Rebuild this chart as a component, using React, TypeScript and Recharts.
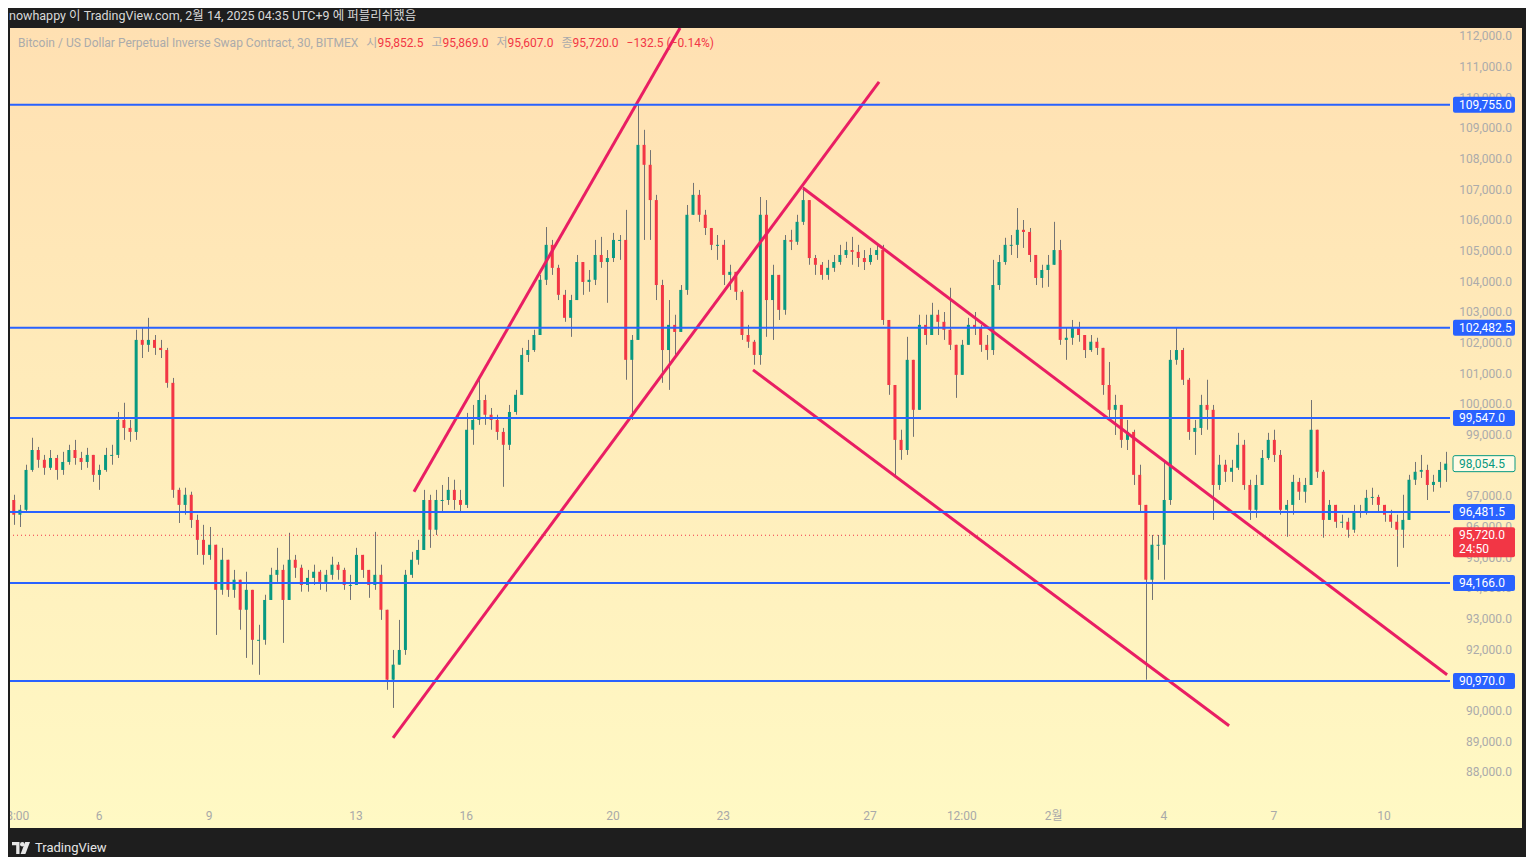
import React from 'react';
import { ComposedChart, Bar, XAxis, YAxis, ReferenceLine } from 'recharts';

const FONT = "Roboto, 'Noto Sans CJK KR', sans-serif";

// 4h candles, from Jan 3 16:00 to Feb 11 16:00
const FIRST_OPEN = 96870;
const closes = [
  96390, 96550, 97850, 98500, 98180, 97920, 98240, 97850, 98110, 98500,
  98240, 98110, 98340, 97690, 97850, 98340, 98340, 99480, 99220, 99090,
  102090, 101930, 102090, 101830, 101760, 100690, 97200, 96710, 97040, 96220,
  95570, 95080, 95410, 93940, 94920, 93940, 94270, 93290, 93940, 92310,
  92310, 93610, 94430, 94590, 93610, 94920, 94660, 94100, 94330, 94530,
  94200, 94430, 94760, 94590, 94100, 94100, 95080, 94590, 94100, 94430,
  93290, 91010, 91500, 91980, 94430, 94920, 95240, 96870, 95900, 96870,
  96870, 97200, 96870, 96710, 99160, 99480, 100130, 99650, 99480, 99090,
  98670, 99740, 100300, 101600, 101760, 102250, 104050, 105190, 104440, 103560,
  102810, 103390, 104630, 103980, 104050, 104860, 104630, 104760, 105350, 105350,
  101440, 102090, 108450, 107800, 106650, 103880, 101760, 102580, 102350, 103720,
  106170, 106820, 106170, 105740, 105190, 105190, 104210, 104310, 103660, 102250,
  102030, 101600, 106170, 103390, 104210, 103070, 105350, 105290, 105940, 106650,
  104760, 104540, 104210, 104440, 104630, 104860, 105020, 104960, 104760, 104630,
  104860, 105020, 102740, 100620, 98830, 98500, 101440, 99810, 102580, 102250,
  102910, 102680, 102420, 101930, 100950, 101930, 102580, 102480, 101930, 101760,
  103880, 104630, 105190, 105190, 105680, 105610, 104860, 104110, 104370, 104540,
  105020, 102090, 102160, 102480, 102250, 101760, 102030, 101830, 100620, 99810,
  99970, 98830, 99090, 97690, 96710, 94270, 95410, 95410, 96870, 101440,
  101760, 100790, 99090, 99220, 99970, 99810, 97360, 98020, 97790, 97920,
  98670, 97360, 96550, 97360, 98240, 98830, 98340, 96550, 96710, 97460,
  97140, 97360, 99160, 97790, 96220, 96710, 96160, 96160, 95900, 96480,
  96480, 96940, 96970, 96710, 96390, 96160, 95900, 96220, 97530, 97790,
  97850, 97360, 97460, 97850, 98054.5,
];
const highs = [
  97040, 96710, 98020, 98900, 98600, 98340, 98500, 98340, 98440, 98670,
  98830, 98440, 98570, 98340, 98020, 98570, 98670, 99740, 100040, 99480,
  102420, 102480, 102810, 102250, 102090, 101830, 100850, 97270, 97270, 97140,
  96390, 96060, 95990, 95310, 95310, 94850, 94590, 93780, 94530, 93940,
  92800, 93780, 94660, 95310, 94760, 95800, 95080, 94760, 94590, 94760,
  94590, 94590, 95020, 94850, 94660, 94430, 95310, 95080, 94590, 95830,
  94760, 93130, 91980, 92960, 94590, 95180, 95570, 97200, 97040, 97200,
  97360, 97620, 97530, 97200, 99710, 99970, 100880, 100300, 99870, 99650,
  99220, 99970, 100460, 101830, 102090, 102420, 104210, 105770, 105350, 104540,
  103720, 103560, 104860, 104540, 104370, 105350, 105450, 105020, 105580, 105510,
  106330, 102250, 109755, 108940, 108280, 106820, 104050, 103390, 102910, 103880,
  106490, 107210, 106980, 106330, 105740, 105510, 105350, 104540, 104210, 103720,
  102580, 102090, 106750, 106650, 104540, 104050, 105510, 105680, 106170, 107080,
  106650, 104860, 104630, 104700, 104860, 105190, 105290, 105450, 105190, 105020,
  105090, 105190, 105190, 102740, 100460, 99160, 102190, 101440, 102910, 102910,
  103300, 103070, 103000, 103790, 101930, 102090, 102810, 103000, 102580, 102250,
  104700, 104860, 105420, 105510, 106390, 106000, 105740, 104860, 104540, 104860,
  105940, 105350, 102480, 102740, 102680, 102250, 102250, 102160, 101760, 101370,
  100300, 99970, 99480, 99160, 98020, 96710, 95730, 95730, 98180, 101760,
  102480, 101830, 100850, 99480, 100300, 100790, 99970, 98340, 98180, 98180,
  99060, 98830, 97530, 97690, 98500, 99060, 99160, 98500, 96870, 97690,
  97590, 97590, 100130, 99160, 97850, 96870, 96710, 96390, 96290, 96710,
  96710, 97200, 97270, 97040, 96710, 96550, 96390, 97040, 97690, 98110,
  98340, 98020, 97690, 98110, 98440,
];
const lows = [
  96060, 95990, 96480, 97790, 97920, 97690, 97850, 97530, 97690, 98020,
  98020, 97850, 97920, 97460, 97200, 97790, 98020, 98240, 98830, 98770,
  98830, 101500, 101700, 101600, 101500, 100530, 96940, 96120, 96390, 95960,
  95080, 94760, 94920, 92470, 93780, 93710, 93680, 92640, 91720, 91500,
  91170, 92150, 93610, 94200, 92210, 93610, 94330, 93880, 93880, 94100,
  93940, 93880, 94270, 94270, 93940, 93610, 94270, 94330, 93680, 93940,
  92960, 90680, 90090, 91500, 91820, 94330, 94760, 95240, 95310, 95730,
  96480, 96710, 96550, 96480, 96610, 98670, 99320, 99320, 99160, 98830,
  97300, 98500, 99650, 100300, 101370, 101700, 102250, 103880, 104210, 103390,
  102680, 102190, 103390, 103560, 103660, 103880, 104440, 103300, 104630, 104700,
  100790, 99480, 102420, 105350, 105350, 103390, 100690, 100460, 101600, 102580,
  103560, 106170, 105940, 105510, 105020, 104700, 103880, 103720, 103390, 102090,
  101830, 101280, 101280, 102190, 102090, 102740, 102910, 105020, 105190, 105840,
  104540, 104210, 104050, 104050, 104310, 104540, 104760, 104540, 104470, 104370,
  104540, 104700, 102580, 100300, 97620, 98180, 98340, 98930, 99810, 101930,
  102250, 102250, 102090, 101760, 100200, 101110, 101930, 102250, 101700, 101440,
  101600, 103720, 104540, 104860, 104760, 105090, 104630, 103880, 103790, 103820,
  104630, 101930, 101440, 101930, 102030, 101500, 101700, 101600, 100300, 99480,
  98990, 98570, 98500, 97360, 96480, 91010, 93610, 94920, 94270, 96710,
  101280, 100620, 98830, 98340, 98990, 99160, 96220, 97200, 97460, 97460,
  97850, 97200, 96220, 96290, 97360, 98180, 98110, 96390, 95670, 96390,
  96870, 96780, 97360, 97590, 95640, 96220, 95960, 95960, 95640, 95800,
  96290, 96390, 96710, 96480, 96160, 95960, 94690, 95310, 96550, 97360,
  97590, 96870, 97140, 97270, 97460,
];

// hours from Jan 6 00:00
const START_HOUR = -56;
const BAR_HOURS = 4;
const X_DOMAIN = [-58.18, 883.1];
const Y_DOMAIN = [87087, 112261];

const priceTicks = [
  88000, 89000, 90000, 91000, 92000, 93000, 94000, 95000, 96000, 97000, 98000, 99000,
  100000, 101000, 102000, 103000, 104000, 105000, 106000, 107000, 108000, 109000,
  110000, 111000, 112000,
];
const timeTicks = [-54, 0, 72, 168, 240, 336, 408, 504, 564, 624, 696, 768, 840];
const timeLabels = ['18:00', '6', '9', '13', '16', '20', '23', '27', '12:00', '2월', '4', '7', '10'];

const levels = [109755, 102482.5, 99547, 96481.5, 94166, 90970];
const lastPrice = 95720;
const lastClose = 98054.5;
const countdown = '24:50';

// [hour, price] endpoints
const trendLines = [
  [[205.9, 97135], [379.8, 112261]],
  [[192.2, 89115], [509.9, 110501]],
  [[460.2, 107045], [881.2, 91170]],
  [[427.5, 101112], [738.7, 89506]],
];

const candles = closes.map((close, i) => {
  const open = i === 0 ? FIRST_OPEN : closes[i - 1];
  return {
    t: START_HOUR + i * BAR_HOURS,
    open,
    close,
    high: Math.max(highs[i], open, close),
    low: Math.min(lows[i], open, close),
  };
});

const fmt = (v: number) =>
  v.toLocaleString('en-US', { minimumFractionDigits: 1, maximumFractionDigits: 1 });

const Candle = (props: any) => {
  const { x, y, width, height, payload } = props;
  if (x == null || payload == null) return null;
  const { open, close, high, low } = payload;
  const span = high - low || 1;
  const toY = (v: number) => y + ((high - v) / span) * height;
  const up = close >= open;
  const top = toY(Math.max(open, close));
  const bot = toY(Math.min(open, close));
  const cx = Math.round(x + width / 2) + 0.5;
  return (
    <g>
      <line x1={cx} x2={cx} y1={y} y2={y + height} stroke="#737373" strokeWidth={1} />
      <rect x={x} y={top} width={width} height={Math.max(1, bot - top)} fill={up ? '#089981' : '#F23645'} />
    </g>
  );
};

const TimeTick = (props: any) => {
  const { x, y, payload } = props;
  const idx = timeTicks.indexOf(payload.value);
  // the first label sits half outside the pane, as in the screenshot
  const shift = idx === 0 ? -2 : 0;
  return (
    <text x={x + shift} y={y + 3} dy="0.71em" textAnchor="middle" fill="#a9a9a9" fontSize={12} fontFamily={FONT}>
      {idx >= 0 ? timeLabels[idx] : ''}
    </text>
  );
};

// price scale text, drawn as a label of an invisible reference line so tags can sit on top
const PriceText = (props: any) => {
  const { viewBox, value } = props;
  if (!viewBox) return null;
  return (
    <text x={viewBox.x + viewBox.width + 62} y={viewBox.y} dy="0.35em" textAnchor="end" fill="#ababab" fontSize={12} fontFamily={FONT}>
      {fmt(value)}
    </text>
  );
};

const Tag = (props: any) => {
  const { viewBox, text, sub, bg, fg, border } = props;
  if (!viewBox) return null;
  const x = viewBox.x + viewBox.width + 3;
  const y = viewBox.y;
  const h = sub ? 30 : 16;
  return (
    <g>
      <rect x={x} y={y - 8} width={62} height={h} rx={2} fill={bg} stroke={border || 'none'} />
      <text x={x + 6} y={y} dy="0.35em" fill={fg} fontSize={12} fontFamily={FONT}>{text}</text>
      {sub && (
        <text x={x + 6} y={y + 14} dy="0.35em" fill={fg} fontSize={12} fontFamily={FONT}>{sub}</text>
      )}
    </g>
  );
};

const TvLogo = () => (
  <svg width={18} height={12} viewBox="0 0 18 12">
    <path d="M0 0h7.5v12H4.2V3.2H0z" fill="#e6e6e6" />
    <circle cx={10.3} cy={2.3} r={2.3} fill="#e6e6e6" />
    <path d="M13.2 0H18l-4.6 12H8.6z" fill="#e6e6e6" />
  </svg>
);

export default function App() {
  return (
    <div
      style={{
        position: 'relative',
        width: 1534,
        height: 865,
        margin: -8,
        background: '#1e1e1e',
        fontFamily: FONT,
        overflow: 'hidden',
      }}
    >
      <div style={{ position: 'absolute', left: 9, top: 5, color: '#d8d8d8', fontSize: 12.5, whiteSpace: 'nowrap' }}>
        nowhappy 이 TradingView.com, 2월 14, 2025 04:35 UTC+9 에 퍼블리쉬했음
      </div>

      <div
        style={{
          position: 'absolute',
          left: 10,
          top: 28,
          width: 1512,
          height: 800,
          background: 'linear-gradient(180deg, #FFE0B2 0%, #FFF9C4 100%)',
        }}
      >
        <ComposedChart width={1512} height={800} data={candles} margin={{ top: 0, right: 0, bottom: 0, left: 0 }}>
          <XAxis
            type="number"
            dataKey="t"
            domain={X_DOMAIN}
            allowDataOverflow
            ticks={timeTicks}
            interval={0}
            height={28}
            axisLine={false}
            tickLine={false}
            tick={<TimeTick />}
          />
          <YAxis
            orientation="right"
            type="number"
            domain={Y_DOMAIN}
            allowDataOverflow
            ticks={priceTicks}
            width={72}
            axisLine={false}
            tickLine={false}
            tick={false}
          />
          {priceTicks.map((v) => (
            <ReferenceLine
              key={'pt' + v}
              y={v}
              stroke="none"
              ifOverflow="visible"
              label={(p: any) => <PriceText {...p} value={v} />}
            />
          ))}
          <Bar dataKey={(d: any) => [d.low, d.high]} barSize={3} shape={Candle} isAnimationActive={false} />
          {trendLines.map((l, i) => (
            <ReferenceLine
              key={'tl' + i}
              segment={[{ x: l[0][0], y: l[0][1] }, { x: l[1][0], y: l[1][1] }]}
              stroke="#E91E63"
              strokeWidth={3}
              ifOverflow="hidden"
            />
          ))}
          <ReferenceLine
            y={lastPrice}
            stroke="#F23645"
            strokeWidth={1}
            strokeDasharray="1 3"
            ifOverflow="visible"
            label={(p: any) => <Tag {...p} text={fmt(lastPrice)} sub={countdown} bg="#F23645" fg="#ffffff" />}
          />
          <ReferenceLine
            y={lastClose}
            stroke="none"
            ifOverflow="visible"
            label={(p: any) => <Tag {...p} text={fmt(lastClose)} bg="#fffbe6" fg="#089981" border="#089981" />}
          />
          {levels.map((v) => (
            <ReferenceLine
              key={'lv' + v}
              y={v}
              stroke="#2962FF"
              strokeWidth={2}
              ifOverflow="visible"
              label={(p: any) => <Tag {...p} text={fmt(v)} bg="#2962FF" fg="#ffffff" />}
            />
          ))}
        </ComposedChart>

        <div style={{ position: 'absolute', left: 8, top: 5, fontSize: 12, whiteSpace: 'nowrap', color: '#ababab' }}>
          Bitcoin / US Dollar Perpetual Inverse Swap Contract, 30, BITMEX
          <span style={{ marginLeft: 8 }}>시</span>
          <span style={{ color: '#F23645' }}>95,852.5</span>
          <span style={{ marginLeft: 8 }}>고</span>
          <span style={{ color: '#F23645' }}>95,869.0</span>
          <span style={{ marginLeft: 8 }}>저</span>
          <span style={{ color: '#F23645' }}>95,607.0</span>
          <span style={{ marginLeft: 8 }}>종</span>
          <span style={{ color: '#F23645' }}>95,720.0</span>
          <span style={{ color: '#F23645', marginLeft: 8 }}>−132.5 (−0.14%)</span>
        </div>
      </div>

      <div style={{ position: 'absolute', left: 12, top: 840, display: 'flex', alignItems: 'center', gap: 5, color: '#e6e6e6', fontSize: 13 }}>
        <TvLogo />
        <span>TradingView</span>
      </div>
    </div>
  );
}
